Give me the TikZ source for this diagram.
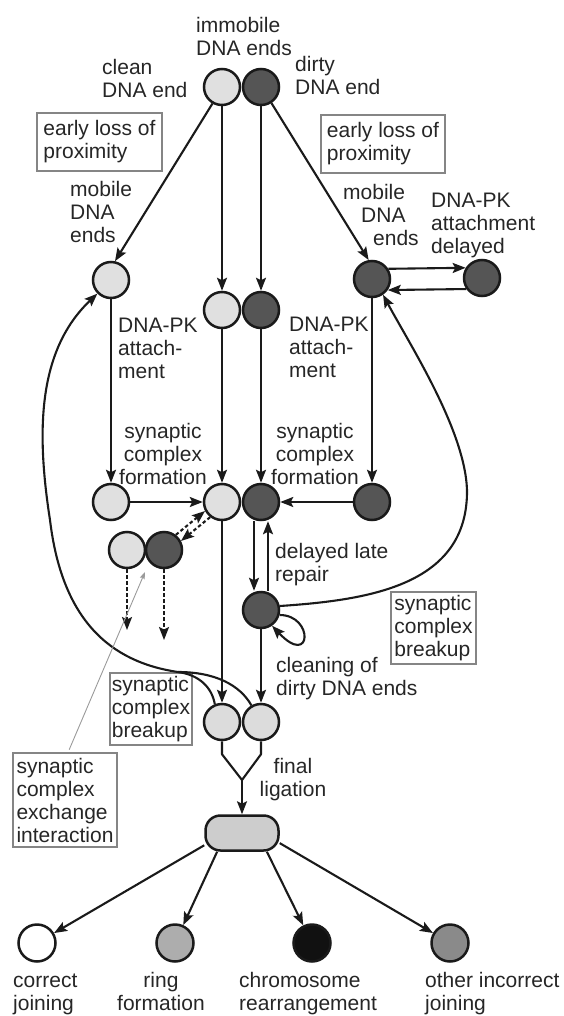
\documentclass[tikz,border=0pt]{standalone}
\usepackage{fontspec}
\setmainfont{Liberation Sans}
\usetikzlibrary{arrows.meta}
\definecolor{cleanc}{HTML}{E0E0E0}
\definecolor{dirtyc}{HTML}{555555}
\definecolor{finc}{HTML}{DCDCDC}
\definecolor{rectc}{HTML}{CDCDCD}
\definecolor{ringc}{HTML}{ADADAD}
\definecolor{chromc}{HTML}{111111}
\definecolor{otherc}{HTML}{8A8A8A}
\definecolor{txt}{HTML}{262626}
\definecolor{linec}{HTML}{1A1A1A}
\definecolor{boxc}{HTML}{858585}
\definecolor{thinc}{HTML}{9A9A9A}
\begin{document}
\begin{tikzpicture}[x=1pt,y=-1pt,
  font=\fontsize{21}{23}\selectfont,
  dna/.style={circle, draw=linec, line width=2.5pt, minimum size=36pt, inner sep=0pt},
  cl/.style={dna, fill=cleanc},
  dt/.style={dna, fill=dirtyc},
  fin/.style={dna, fill=finc},
  outc/.style={dna, minimum size=37pt},
  conn/.style={draw=linec, line width=2.1pt, -{Stealth[length=13pt,width=10pt,inset=2.5pt]}},
  plain/.style={draw=linec, line width=2.1pt, line join=round},
  dashconn/.style={conn, dash pattern=on 3.5pt off 2.5pt},
  thinconn/.style={draw=thinc, line width=0.9pt, -{Stealth[length=7pt,width=5pt,inset=1pt]}},
  lbl/.style={inner sep=0pt, align=left, anchor=base west, text=txt},
  clbl/.style={inner sep=0pt, align=center, anchor=base, text=txt},
  gbox/.style={draw=boxc, line width=1.1pt, align=left, inner sep=0pt, text=txt},
  rbox/.style={draw=linec, line width=2.5pt, fill=rectc, minimum width=73pt, minimum height=35pt, rounded corners=15pt, inner sep=0pt},
]
\useasboundingbox (0,0) rectangle (563,1016);

% boxes
\node[gbox, minimum width=125pt, minimum height=58pt] (b1) at (99.5,142) {early loss of\\proximity};
\node[gbox, minimum width=124pt, minimum height=58pt] (b2) at (383,144) {early loss of\\proximity};
\node[gbox, minimum width=82pt, minimum height=72pt] (b3) at (151,709) {synaptic\\complex\\breakup};
\node[gbox, minimum width=85pt, minimum height=72pt] (b4) at (433.5,628) {synaptic\\complex\\breakup};
\node[gbox, minimum width=104pt, minimum height=94pt] (b5) at (65,800) {synaptic\\complex\\exchange\\interaction};

% circles
\node[cl] (cT) at (222,87) {};
\node[dt] (dT) at (261,87) {};
\node[cl] (cM) at (111,280) {};
\node[cl] (cI) at (222,310) {};
\node[dt] (dI) at (261,310) {};
\node[dt] (dM) at (372,279) {};
\node[dt] (dD) at (482,278) {};
\node[cl] (cL) at (111,502) {};
\node[cl] (cC) at (222,502) {};
\node[dt] (dC) at (261,502) {};
\node[dt] (dR) at (372,502) {};
\node[cl] (cX) at (127,550) {};
\node[dt] (dX) at (164,550) {};
\node[dt] (dL) at (261,610) {};
\node[fin] (fA) at (222,722) {};
\node[fin] (fB) at (261,722) {};
\node[rbox] (R) at (242,833) {};
\node[outc, fill=white] (oJ) at (37,943) {};
\node[outc, fill=ringc] (oR) at (175,943) {};
\node[outc, fill=chromc] (oC) at (312,943) {};
\node[outc, fill=otherc] (oO) at (450,943) {};

% free end points
\coordinate (e1) at (127,630);
\coordinate (e2) at (164,640);
\coordinate (xt) at (145,572);
\coordinate (mg) at (242,780);
\coordinate (m1) at (178,672);

% arrows
\draw[conn] (cT.240) -- (cM.78);
\draw[conn] (dT.-57) -- (dM.100);
\draw[conn] (cT) -- (cI);
\draw[conn] (dT) -- (dI);
\draw[conn] (cM) -- (cL);
\draw[conn] (cI) -- (cC);
\draw[conn] (dI) -- (dC);
\draw[conn] (dM) -- (dR);
\draw[conn] (dM.32) -- (dD.148);
\draw[conn] (dD.-145) -- (dM.-35);
\draw[conn] (cL) -- (cC);
\draw[conn] (dR) -- (dC);
\draw[dashconn] (dX.52) -- (cC.208);
\draw[dashconn] (cC.232) -- (dX.28);
\draw[dashconn] (cX) -- (e1);
\draw[dashconn] (dX) -- (e2);
\draw[conn] (cC) -- (fA);
\draw[conn] ([xshift=-7pt]dC.south) -- ([xshift=-7pt]dL.north);
\draw[conn] ([xshift=7pt]dL.north) -- ([xshift=7pt]dC.south);
\draw[conn] (dL.-15) .. controls (314,615) and (312,668) .. (dL.-55);
\draw[conn] (dL) -- (fB);
\draw[conn] (dL.12) .. controls (370,600) and (468,585) .. (467,490)
  .. controls (465,430) and (410,345) .. (dM.-55);
\draw[conn] (fB.120) .. controls (240,685) and (215,672) .. (m1)
  .. controls (110,662) and (62,620) .. (50,520)
  .. controls (36,430) and (38,350) .. (cM.225);
\draw[plain] (fA.112) .. controls (212,688) and (200,675) .. (m1);
\draw[plain] (fA.south) -- ++(0,13) -- (mg);
\draw[plain] (fB.south) -- ++(0,13) -- (mg);
\draw[conn] (mg) -- (R.north);
\draw[conn] (R.198) -- (oJ);
\draw[conn] (R.217) -- (oR);
\draw[conn] (R.323) -- (oC);
\draw[conn] (R.-15) -- (oO);
\draw[thinconn, shorten <=3pt] ([xshift=3pt]b5.north) -- (xt);

% labels (anchor = baseline of last line)
\node[lbl] (tImm) at (196,56) {immobile\\DNA ends};
\node[lbl] (tCl) at (102,98) {clean\\DNA end};
\node[lbl] (tDi) at (295,95) {dirty\\DNA end};
\node[lbl] (tMl) at (70,243) {mobile\\DNA\\ends};
\node[lbl] (tMr) at (343,245) {mobile\\\hspace*{18pt}DNA\\\hspace*{30pt}ends};
\node[lbl] (tPKd) at (431,254) {DNA-PK\\attachment\\delayed};
\node[lbl] (tPKl) at (118,378) {DNA-PK\\attach-\\ment};
\node[lbl] (tPKr) at (289,377) {DNA-PK\\attach-\\ment};
\node[clbl] (tSFl) at (163,484) {synaptic\\complex\\formation};
\node[clbl] (tSFr) at (315,484) {synaptic\\complex\\formation};
\node[lbl] (tDL) at (275,581) {delayed late\\repair};
\node[lbl] (tCD) at (276,695) {cleaning of\\dirty DNA ends};
\node[clbl] (tFL) at (293,796) {final\\ligation};
\node[lbl] (tCJ) at (13,1010) {correct\\joining};
\node[clbl] (tRF) at (161,1010) {ring\\formation};
\node[lbl] (tCR) at (239,1010) {chromosome\\rearrangement};
\node[lbl] (tOI) at (425,1010) {other incorrect\\joining};
\end{tikzpicture}
\end{document}
